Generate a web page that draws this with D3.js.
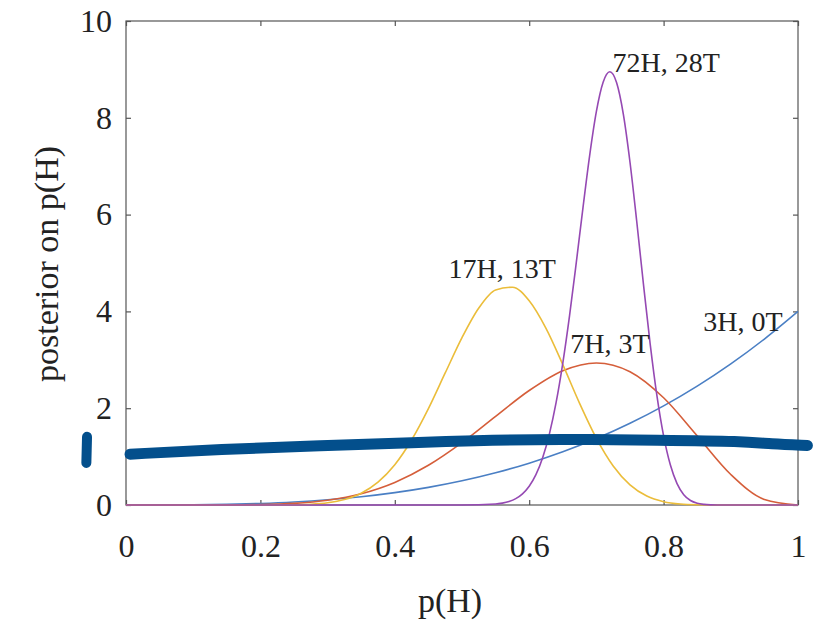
<!DOCTYPE html>
<html>
<head>
<meta charset="utf-8">
<script src="https://cdn.jsdelivr.net/npm/d3@7"></script>
<style>
  body { margin: 0; background: #fff; }
  text { font-family: "Liberation Serif", "Times New Roman", serif; fill: #222; }
</style>
</head>
<body>
<div id="chart"></div>
<script>
// tick labels
var xTicks = [0, 0.2, 0.4, 0.6, 0.8, 1];
var xTickLabels = ["0", "0.2", "0.4", "0.6", "0.8", "1"];
var yTicks = [0, 2, 4, 6, 8, 10];
var yTickLabels = ["0", "2", "4", "6", "8", "10"];

// p(H) grids
var pCoarse = [0, 0.05, 0.1, 0.15, 0.2, 0.25, 0.3, 0.35, 0.4, 0.45, 0.5,
               0.55, 0.6, 0.65, 0.7, 0.75, 0.8, 0.85, 0.9, 0.95, 1];
var pFine = [0, 0.025, 0.05, 0.075, 0.1, 0.125, 0.15, 0.175, 0.2, 0.225, 0.25,
             0.275, 0.3, 0.325, 0.35, 0.375, 0.4, 0.425, 0.45, 0.475, 0.5,
             0.525, 0.55, 0.575, 0.6, 0.625, 0.65, 0.675, 0.7, 0.725, 0.75,
             0.775, 0.8, 0.825, 0.85, 0.875, 0.9, 0.925, 0.95, 0.975, 1];
var pPeak = [0, 0.5, 0.55, 0.56, 0.57, 0.58, 0.59, 0.6, 0.61, 0.62, 0.63, 0.64,
             0.65, 0.66, 0.67, 0.68, 0.69, 0.7, 0.71, 0.72, 0.73, 0.74, 0.75,
             0.76, 0.77, 0.78, 0.79, 0.8, 0.81, 0.82, 0.83, 0.84, 0.85, 0.86,
             0.87, 0.88, 0.9, 1];

// 3H, 0T  (on pCoarse)
var post3H0T = [0, 0.0005, 0.004, 0.0135, 0.032, 0.0625, 0.108, 0.1715, 0.256,
                0.3645, 0.5, 0.6655, 0.864, 1.0985, 1.372, 1.6875, 2.048,
                2.4565, 2.916, 3.4295, 4];
// 7H, 3T  (on pCoarse)
var post7H3T = [0, 0, 0.0001, 0.0014, 0.0087, 0.034, 0.099, 0.233, 0.467,
                0.821, 1.289, 1.831, 2.365, 2.774, 2.935, 2.753, 2.215, 1.428,
                0.631, 0.115, 0];
// 17H, 13T  (on pFine)
var post17H13T = [0, 0, 0, 0, 0, 0, 0, 0, 0.0003, 0.0013, 0.005, 0.016, 0.046,
                  0.113, 0.244, 0.473, 0.833, 1.343, 1.991, 2.728, 3.458, 4.07,
                  4.444, 4.5, 4.219, 3.649, 2.9, 2.101, 1.378, 0.807, 0.416,
                  0.185, 0.069, 0.02, 0.005, 0.001, 0, 0, 0, 0, 0];
// 72H, 28T  (on pPeak)
var post72H28T = [0, 0.0004, 0.02, 0.039, 0.073, 0.132, 0.231, 0.387, 0.626,
                  0.977, 1.465, 2.114, 2.932, 3.907, 5.001, 6.14, 7.225, 8.131,
                  8.733, 8.95, 8.727, 8.08, 7.082, 5.862, 4.562, 3.329, 2.263,
                  1.428, 0.83, 0.442, 0.214, 0.093, 0.036, 0.012, 0.003, 0.001,
                  0, 0];

var curveNames = ["3H, 0T", "7H, 3T", "17H, 13T", "72H, 28T"];
var labelP = [0.859, 0.661, 0.48, 0.724];
var labelV = [3.6, 3.14, 4.69, 8.95];

// hand-drawn marker stroke over the plot
var strokeP = [0.006, 0.14, 0.289, 0.438, 0.508, 0.646, 0.795, 0.919, 0.959, 1.014];
var strokeV = [1.05, 1.15, 1.23, 1.29, 1.33, 1.36, 1.34, 1.32, 1.26, 1.23];
var markP = [-0.058, -0.059];
var markV = [1.41, 0.87];

var margin = {top: 21, right: 22, bottom: 117, left: 126};
var width = 820 - margin.left - margin.right;
var height = 622 - margin.top - margin.bottom;

var svg = d3.select("#chart")
  .append("svg")
  .attr("width", 820)
  .attr("height", 622);

var g = svg.append("g")
  .attr("transform", "translate(" + margin.left + "," + margin.top + ")");

var x = d3.scaleLinear().domain([0, 1]).range([0, width]);
var y = d3.scaleLinear().domain([0, 10]).range([height, 0]);

var axisColor = "#555";

// frame
g.append("rect")
  .attr("width", width)
  .attr("height", height)
  .attr("fill", "none")
  .attr("stroke", axisColor)
  .attr("stroke-width", 1.2);

function styleAxis(sel) {
  sel.select(".domain").remove();
  sel.selectAll(".tick line").attr("stroke", axisColor).attr("stroke-width", 1.2);
  sel.selectAll("text").attr("fill", "#222");
}

g.append("g")
  .attr("transform", "translate(0," + height + ")")
  .call(d3.axisBottom(x).tickValues(xTicks).tickSize(-5).tickPadding(29)
    .tickFormat(function(d, i) { return xTickLabels[i]; }))
  .call(styleAxis)
  .selectAll("text").style("font-size", "32px").style("font-family", "Liberation Serif");

g.append("g")
  .call(d3.axisLeft(y).tickValues(yTicks).tickSize(-5).tickPadding(14)
    .tickFormat(function(d, i) { return yTickLabels[i]; }))
  .call(styleAxis)
  .selectAll("text").style("font-size", "32px").style("font-family", "Liberation Serif");

g.append("g")
  .call(d3.axisTop(x).tickValues(xTicks).tickSize(-5).tickFormat(""))
  .call(styleAxis);

g.append("g")
  .attr("transform", "translate(" + width + ",0)")
  .call(d3.axisRight(y).tickValues(yTicks).tickSize(-5).tickFormat(""))
  .call(styleAxis);

// axis titles
svg.append("text")
  .attr("x", margin.left + width / 2 - 12)
  .attr("y", 612)
  .attr("text-anchor", "middle")
  .style("font-size", "34px")
  .text("p(H)");

svg.append("text")
  .attr("transform", "translate(58," + 264 + ") rotate(-90)")
  .attr("text-anchor", "middle")
  .style("font-size", "34px")
  .text("posterior on p(H)");

// posterior curves
var series = [
  {p: pCoarse, v: post3H0T, color: "#4a7fc4"},
  {p: pCoarse, v: post7H3T, color: "#d55e3a"},
  {p: pFine, v: post17H13T, color: "#ebbd3a"},
  {p: pPeak, v: post72H28T, color: "#9549b3"}
];

var line = d3.line()
  .x(function(d) { return x(d[0]); })
  .y(function(d) { return y(d[1]); })
  .curve(d3.curveMonotoneX);

series.forEach(function(s) {
  g.append("path")
    .datum(d3.zip(s.p, s.v))
    .attr("d", line)
    .attr("fill", "none")
    .attr("stroke", s.color)
    .attr("stroke-width", 1.6);
});

// curve labels
curveNames.forEach(function(name, i) {
  g.append("text")
    .attr("x", x(labelP[i]))
    .attr("y", y(labelV[i]))
    .style("font-size", "28px")
    .text(name);
});

// hand-drawn marker
var freeLine = d3.line()
  .x(function(d) { return x(d[0]); })
  .y(function(d) { return y(d[1]); })
  .curve(d3.curveBasis);

g.append("path")
  .datum(d3.zip(strokeP, strokeV))
  .attr("d", freeLine)
  .attr("fill", "none")
  .attr("stroke", "#034f8c")
  .attr("stroke-width", 11)
  .attr("stroke-linecap", "round")
  .attr("stroke-linejoin", "round");

g.append("path")
  .datum(d3.zip(markP, markV))
  .attr("d", freeLine)
  .attr("fill", "none")
  .attr("stroke", "#034f8c")
  .attr("stroke-width", 10)
  .attr("stroke-linecap", "round");
</script>
</body>
</html>
